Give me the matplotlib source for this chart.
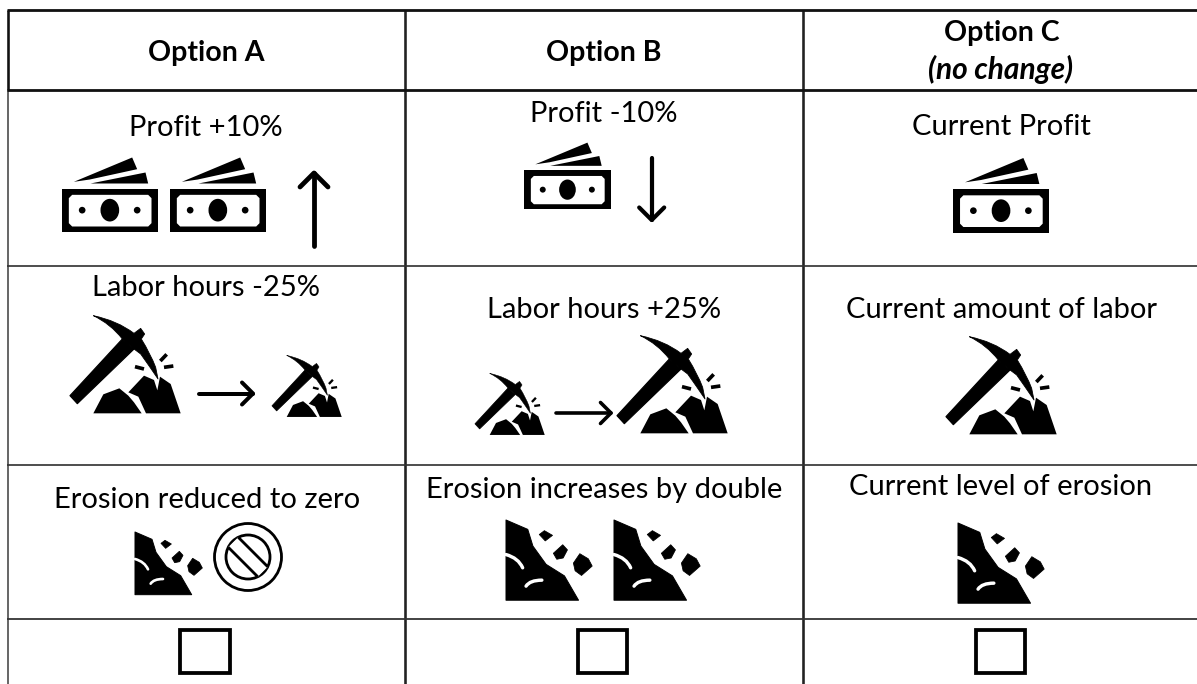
import matplotlib
matplotlib.use("Agg")
import matplotlib.pyplot as plt
from matplotlib.path import Path
from matplotlib.patches import PathPatch, Polygon, Ellipse, Circle, Rectangle

plt.rcParams['font.family'] = ['Lato', 'DejaVu Sans']

W, H = 1197, 684
DPI = 100
PX = 72 / DPI

column_lines = [(7.5, 10, 90, 2.6, "#111111"), (7.5, 90, H, 1.6, "#444444"),
                (405, 10, H, 2.6, "#222222"), (803, 10, H, 2.6, "#222222")]
row_lines = [(10, 2.8, "#111111"), (90, 2.8, "#111111"), (265.5, 1.7, "#333333"),
             (464.5, 1.7, "#333333"), (618.5, 1.8, "#333333")]

header_labels = [("Option A", 206.5, 61), ("Option B", 604, 61), ("Option C", 1002, 41)]
header_note = ("(no change)", 1001, 79)
cell_labels = [
    ("Profit +10%", 206, 136), ("Profit -10%", 604, 121.5), ("Current Profit", 1001.5, 135),
    ("Labor hours -25%", 206, 295.5), ("Labor hours +25%", 604, 317.5), ("Current amount of labor", 1001, 317.5),
    ("Erosion reduced to zero", 207, 508), ("Erosion increases by double", 604, 498), ("Current level of erosion", 1001, 495),
]
money_icons = [(61.5, 188.5, 1.0), (169.5, 188.5, 1.0), (524.3, 170.3, 0.893), (952.7, 189, 1.0)]
pick_icons = [(70, 315, 1.0), (272, 355, 0.63), (475, 373, 0.63), (617, 335, 1.0), (946, 336, 1.0)]
erosion_icons = [(135, 532, 1.0), (506, 520, 1.28), (614, 520, 1.28), (958, 523, 1.28)]
checkboxes = [(180, 629.5, 50, 43.5), (578, 629.5, 49, 43.5), (976, 629.5, 49, 43.5)]
arrows = [((314, 246), (314, 173), 14, 4.8), ((651.7, 158), (651.7, 220), 12.5, 4.2),
          ((199, 393.5), (253, 393.5), 11, 4.0), ((556, 413), (611, 413), 10.5, 3.6)]
no_sign = (248, 557)

fig = plt.figure(figsize=(W / DPI, H / DPI), dpi=DPI, facecolor="white")
ax = fig.add_axes([0, 0, 1, 1])
ax.set_xlim(0, W)
ax.set_ylim(H, 0)
ax.axis("off")


def poly(pts, ox, oy, s, color="black", z=3, edge=0.0):
    ax.add_patch(Polygon([(ox + x * s / 3, oy + y * s / 3) for x, y in pts], closed=True, fc=color,
                         ec=color if edge else "none", lw=edge * PX, joinstyle="round", zorder=z))


def money(x0, y0, s):
    k = s / 3
    poly([(0, 0), (290, 0), (290, 131), (0, 131)], x0, y0, s)
    poly([(32, 19), (260, 19), (270, 29), (270, 104), (260, 114), (32, 114), (22, 104), (22, 29)],
         x0, y0, s, "white", z=4)
    ax.add_patch(Ellipse((x0 + 145 * k, y0 + 65 * k), 56 * k, 68 * k, fc="black", ec="none", zorder=5))
    for cx in (62, 227):
        ax.add_patch(Circle((x0 + cx * k, y0 + 65 * k), 10 * k, fc="black", ec="none", zorder=5))
    poly([(37, -20), (212, -93), (227, -58), (85, -27)], x0, y0, s)
    poly([(87, -15), (252, -48), (260, -15)], x0, y0, s)


def pick(x0, y0, s):
    k = s / 3
    ox, oy = x0 - 30 * k, y0 - 30 * k
    T = lambda p: (ox + p[0] * k, oy + p[1] * k)
    poly([(30, 272), (187, 102), (222, 132), (52, 296)], ox, oy, s, edge=1.2 * s)
    verts = [(100, 32), (172, 47), (222, 85), (242, 70), (254, 87), (244, 102),
             (272, 147), (287, 187), (294, 222), (267, 182), (242, 147), (222, 132),
             (187, 102), (152, 57), (100, 32)]
    codes = [Path.MOVETO, Path.CURVE3, Path.CURVE3, Path.LINETO, Path.LINETO, Path.LINETO,
             Path.CURVE3, Path.CURVE3, Path.LINETO, Path.CURVE3, Path.CURVE3, Path.LINETO,
             Path.LINETO, Path.CURVE3, Path.CURVE3]
    ax.add_patch(PathPatch(Path([T(v) for v in verts], codes), fc="black", ec="black",
                           lw=0.8 * s * PX, joinstyle="round", zorder=3))
    poly([(100, 325), (130, 268), (178, 250), (205, 272), (222, 292), (245, 325)], ox, oy, s)
    poly([(205, 262), (252, 212), (282, 225), (292, 256), (300, 215), (332, 237), (362, 325),
          (258, 325), (235, 275)], ox, oy, s)
    for a, b in [((225, 185), (252, 192)), ((301, 168), (320, 148)), ((312, 187), (340, 183))]:
        ax.plot(*zip(T(a), T(b)), color="black", lw=11 * k * PX, solid_capstyle="butt", zorder=3)


def erosion(x0, y0, s):
    k = s / 3
    ox, oy = x0 - 47 * k, y0 - 66 * k
    T = lambda p: (ox + p[0] * k, oy + p[1] * k)
    poly([(47, 66), (98, 88), (110, 127), (141, 170), (184, 197), (217, 254), (47, 254)], ox, oy, s, edge=1.0)
    for pts in ([(125, 100), (137, 91), (156, 102), (139, 115)],
                [(158, 144), (180, 124), (191, 136), (181, 155), (166, 158)],
                [(205, 167), (220, 145), (240, 157), (249, 174), (224, 196), (209, 185)]):
        poly(pts, ox, oy, s, edge=0.8)
    for verts in ([(47, 147), (76, 155), (86, 178)], [(94, 221), (103, 207), (131, 207)]):
        path = Path([T(v) for v in verts], [Path.MOVETO, Path.CURVE3, Path.CURVE3])
        ax.add_patch(PathPatch(path, fc="none", ec="white", lw=8 * k * PX, capstyle="round", zorder=4))


def arrow(start, tip, size, lw):
    dx, dy = tip[0] - start[0], tip[1] - start[1]
    n = (dx * dx + dy * dy) ** 0.5
    ux, uy = dx / n, dy / n
    ax.plot([start[0], tip[0]], [start[1], tip[1]], color="black", lw=lw * PX, solid_capstyle="round", zorder=3)
    ax.plot([tip[0] - size * ux - size * uy, tip[0], tip[0] - size * ux + size * uy],
            [tip[1] - size * uy + size * ux, tip[1], tip[1] - size * uy - size * ux],
            color="black", lw=lw * PX, solid_capstyle="round", solid_joinstyle="round", zorder=3)


for x, y0, y1, lw, color in column_lines:
    ax.plot([x, x], [y0, y1], color=color, lw=lw * PX, solid_capstyle="butt", zorder=2)
for y, lw, color in row_lines:
    ax.plot([6.5, W], [y, y], color=color, lw=lw * PX, solid_capstyle="butt", zorder=2)

for label, x, y in header_labels:
    ax.text(x, y, label, ha="center", va="baseline", fontsize=20.5, fontweight="bold", color="black")
ax.text(header_note[1], header_note[2], header_note[0], ha="center", va="baseline",
        fontsize=21.5, fontweight="bold", fontstyle="italic", color="black")
for label, x, y in cell_labels:
    ax.text(x, y, label, ha="center", va="baseline", fontsize=21, color="black")

for icon in money_icons:
    money(*icon)
for icon in pick_icons:
    pick(*icon)
for icon in erosion_icons:
    erosion(*icon)
for a in arrows:
    arrow(*a)
for x, y, w, h in checkboxes:
    ax.add_patch(Rectangle((x, y), w, h, fc="none", ec="black", lw=3.8 * PX, zorder=3))

cx, cy = no_sign
ax.add_patch(Circle((cx, cy), 33.5, fc="none", ec="black", lw=2.8 * PX, zorder=3))
ax.add_patch(Circle((cx, cy), 22, fc="none", ec="black", lw=2.8 * PX, zorder=3))
ax.add_patch(Polygon([(cx - 14.8 + 5, cy - 14.8 - 5), (cx + 14.8 + 5, cy + 14.8 - 5),
                      (cx + 14.8 - 5, cy + 14.8 + 5), (cx - 14.8 - 5, cy - 14.8 + 5)],
                     closed=True, fc="white", ec="none", zorder=4))
for off in (-5, 5):
    ax.plot([cx - 14.8 + off, cx + 14.8 + off], [cy - 14.8 - off, cy + 14.8 - off],
            color="black", lw=2.8 * PX, solid_capstyle="butt", zorder=5)

fig.savefig("out.png", dpi=DPI)
